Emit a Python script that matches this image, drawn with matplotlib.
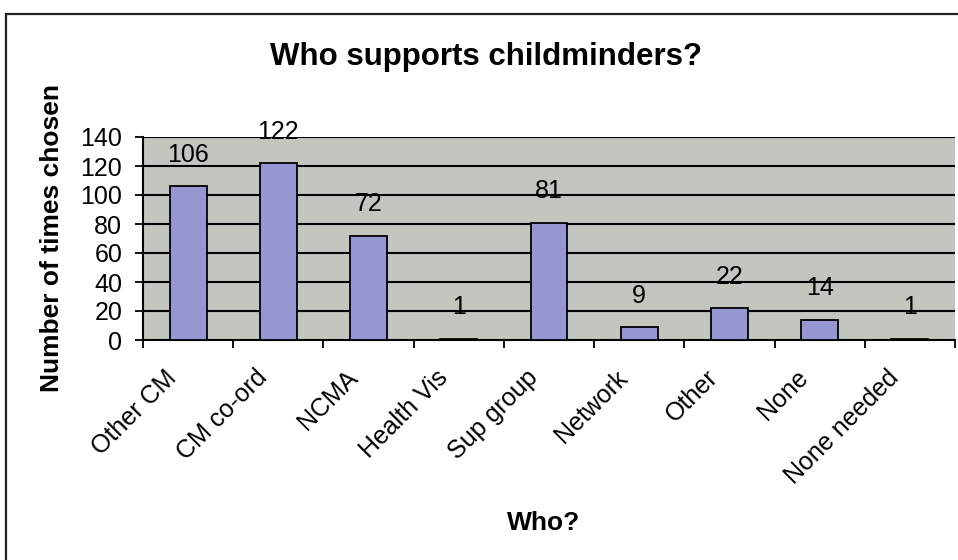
import matplotlib
matplotlib.use("Agg")
import matplotlib.pyplot as plt
from matplotlib.patches import Rectangle
from matplotlib.transforms import ScaledTranslation

plt.rcParams['font.family'] = ['Liberation Sans', 'DejaVu Sans']

categories = ["Other CM", "CM co-ord", "NCMA", "Health Vis", "Sup group",
              "Network", "Other", "None", "None needed"]
values = [106, 122, 72, 1, 81, 9, 22, 14, 1]
yticks = [0, 20, 40, 60, 80, 100, 120, 140]

fig = plt.figure(figsize=(9.58, 5.6), dpi=100)
fig.patch.set_facecolor('white')

# outer frame
fig.add_artist(Rectangle((6/958, -0.05), 1.1, 1 - 14/560 + 0.05, transform=fig.transFigure,
                         fill=False, edgecolor='#222222', linewidth=1.6))

ax = fig.add_axes([143/958, 1 - 340/560, (955 - 143)/958, (340 - 137)/560])
ax.set_facecolor('#c3c6bf')

x = list(range(len(categories)))
ax.bar(x, values, width=0.41, color='#9696d2', edgecolor='black', linewidth=1.3, zorder=3)

ax.set_xlim(-0.5, len(categories) - 0.5)
ax.set_ylim(0, 140)
ax.set_yticks(yticks)
ax.set_yticklabels([str(t) for t in yticks], fontsize=18)
for t in yticks[1:]:
    ax.axhline(t, color='black', linewidth=1.5, zorder=1)

ax.set_xticks([i - 0.5 for i in range(len(categories) + 1)])
ax.set_xticklabels([])
ax.set_xticks(x, minor=True)
ax.set_xticklabels(categories, minor=True, rotation=45, ha='right', va='center',
                   rotation_mode='anchor', fontsize=18)
ax.tick_params(axis='x', which='minor', length=0, pad=0)
ax.tick_params(axis='x', which='major', length=6, width=1.3, direction='out')
ax.tick_params(axis='y', length=6, width=1.3, direction='out', pad=9)

offset = ScaledTranslation(-15/100, -34/100, fig.dpi_scale_trans)
for lab in ax.get_xticklabels(minor=True):
    lab.set_transform(lab.get_transform() + offset)

for s in ['top', 'right']:
    ax.spines[s].set_visible(False)
for s in ['left', 'bottom']:
    ax.spines[s].set_linewidth(1.5)

for i, v in enumerate(values):
    ax.annotate(str(v), (i, v), xytext=(0, 14), textcoords='offset points',
                ha='center', va='bottom', fontsize=18)

fig.text(486/958, 1 - 57/560, "Who supports childminders?", ha='center', va='center',
         fontsize=22.5, fontweight='bold')
fig.text(52/958, 1 - 238/560, "Number of times chosen", ha='center', va='center',
         rotation=90, fontsize=19, fontweight='bold')
fig.text(544/958, 1 - 523/560, "Who?", ha='center', va='center', fontsize=19, fontweight='bold')

fig.savefig("out.png", dpi=100)
